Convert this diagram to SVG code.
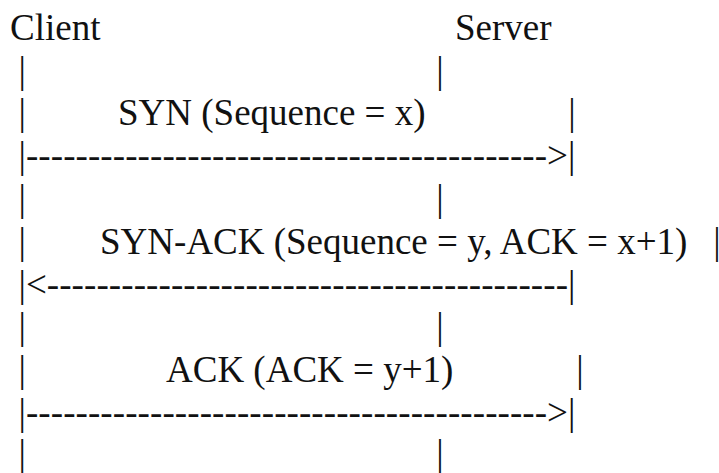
<svg xmlns="http://www.w3.org/2000/svg" width="719" height="473" viewBox="0 0 719 473">
<style>
text{font-family:'Liberation Serif',Tinos,'DejaVu Serif',serif;font-size:37px;fill:#111;}
</style>
<rect width="719" height="473" fill="#fff"/>
<g id="header" font-family="Liberation Serif">
<text x="10" y="40">Client</text>
<text x="455" y="40">Server</text>
</g>
<g id="lifelines">
<text x="18.5" y="83">|</text><text x="436.3" y="83">|</text>
<text x="18.5" y="125">|</text><text x="568.3" y="125">|</text>
<text x="18.5" y="211">|</text><text x="436.3" y="211">|</text>
<text x="18.5" y="254">|</text><text x="713.3" y="254">|</text>
<text x="18.5" y="339">|</text><text x="436.3" y="339">|</text>
<text x="18.5" y="382">|</text><text x="576.3" y="382">|</text>
<text x="18.5" y="466">|</text><text x="436.3" y="466">|</text>
</g>
<g id="labels">
<text x="118" y="125">SYN (Sequence = x)</text>
<text x="100" y="254">SYN-ACK (Sequence = y, ACK = x+1)</text>
<text x="166" y="382">ACK (ACK = y+1)</text>
</g>
<g id="connectors">
<text x="18.5" y="168">|</text>
<text x="25.9" y="168" textLength="521.2" lengthAdjust="spacing">------------------------------------------</text>
<text x="547.1" y="168">&gt;|</text>
<text x="18.5" y="297">|&lt;</text>
<text x="46.8" y="297" textLength="521.2" lengthAdjust="spacing">------------------------------------------</text>
<text x="568" y="297">|</text>
<text x="18.5" y="425">|</text>
<text x="25.9" y="425" textLength="521.2" lengthAdjust="spacing">------------------------------------------</text>
<text x="547.1" y="425">&gt;|</text>
</g>
</svg>
